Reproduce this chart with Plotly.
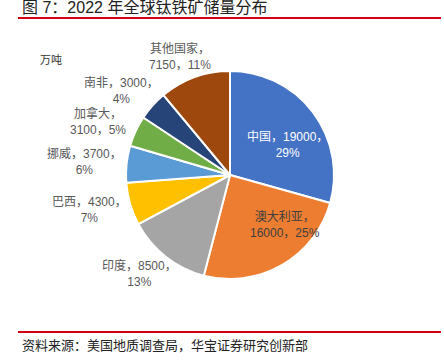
import math
import plotly.graph_objects as go

# ---- data ----
countries = ["中国", "澳大利亚", "印度", "巴西", "挪威", "加拿大", "南非", "其他国家"]
reserves = [19000, 16000, 8500, 4300, 3700, 3100, 3000, 7150]
pct_labels = ["29%", "25%", "13%", "7%", "6%", "5%", "4%", "11%"]

# ---- style ----
colors = ["#4472C4", "#ED7D31", "#A5A5A5", "#FFC000", "#5B9BD5", "#70AD47", "#264478", "#9E480E"]
W, H = 444, 364
CX, CY, R = 230, 175, 104
inside = [True, True, False, False, False, False, False, False]
inside_r = [0.63, 0.71, 0, 0, 0, 0, 0, 0]
angle_shift = [9, -18, 0, 0, 0, 0, 0, 0]
breaks = [2, 1, 2, 2, 2, 1, 2, 1]  # line break after name (1) or after value (2)
label_w, label_h, gap = 68, 28, 8

fig = go.Figure(go.Pie(
    labels=countries, values=reserves, sort=False, direction="clockwise",
    marker=dict(colors=colors, line=dict(color="white", width=2)),
    textinfo="none", hoverinfo="label+value+percent", showlegend=False,
    domain=dict(x=[(CX - R) / W, (CX + R) / W], y=[1 - (CY + R) / H, 1 - (CY - R) / H]),
))

total = sum(reserves)
cum = 0
annotations = []
for i, (name, v, p) in enumerate(zip(countries, reserves, pct_labels)):
    mid = (cum + v / 2) / total * 360 + angle_shift[i]
    cum += v
    th = math.radians(mid)
    s, c = math.sin(th), math.cos(th)
    if inside[i]:
        r = inside_r[i] * R
        px, py = CX + r * s, CY - r * c
    else:
        r = R + gap
        px = CX + r * s + label_w / 2 * s
        py = CY - r * c - label_h / 2 * c
    if breaks[i] == 1:
        txt = f"{name}，<br>{v}，{p}"
    else:
        txt = f"{name}，{v}，<br>{p}"
    annotations.append(dict(
        x=px / W, y=1 - py / H, xref="paper", yref="paper", text=txt, showarrow=False,
        xanchor="center", yanchor="middle", align="center",
        font=dict(size=12, color="white" if i == 0 else ("#404040" if i == 1 else "#595959"),
                  family="Liberation Sans, Noto Sans CJK SC"),
    ))

annotations += [
    dict(x=20 / W, y=1 - 7 / H, xref="paper", yref="paper", text="图 7：2022 年全球钛铁矿储量分布",
         showarrow=False, xanchor="left", yanchor="middle",
         font=dict(size=16, color="#222222", family="Liberation Sans, Noto Sans CJK SC")),
    dict(x=38 / W, y=1 - 59 / H, xref="paper", yref="paper", text="万吨",
         showarrow=False, xanchor="left", yanchor="middle",
         font=dict(size=11, color="#333333", family="Noto Sans CJK SC")),
    dict(x=20 / W, y=1 - 345 / H, xref="paper", yref="paper",
         text="资料来源：美国地质调查局，华宝证券研究创新部",
         showarrow=False, xanchor="left", yanchor="middle",
         font=dict(size=13, color="#222222", family="Liberation Sans, Noto Sans CJK SC")),
]

shapes = [
    dict(type="line", xref="paper", yref="paper", x0=18 / W, x1=441 / W, y0=1 - 18 / H, y1=1 - 18 / H,
         line=dict(color="#D7000F", width=2)),
    dict(type="line", xref="paper", yref="paper", x0=18 / W, x1=441 / W, y0=1 - 332 / H, y1=1 - 332 / H,
         line=dict(color="#D7000F", width=2)),
]

fig.update_layout(
    width=W, height=H, margin=dict(l=0, r=0, t=0, b=0),
    paper_bgcolor="white", plot_bgcolor="white",
    annotations=annotations, shapes=shapes,
)
fig.write_html("out.html", config={"displayModeBar": False},
               post_script="document.body.style.margin='0px';document.body.style.overflow='hidden';")
